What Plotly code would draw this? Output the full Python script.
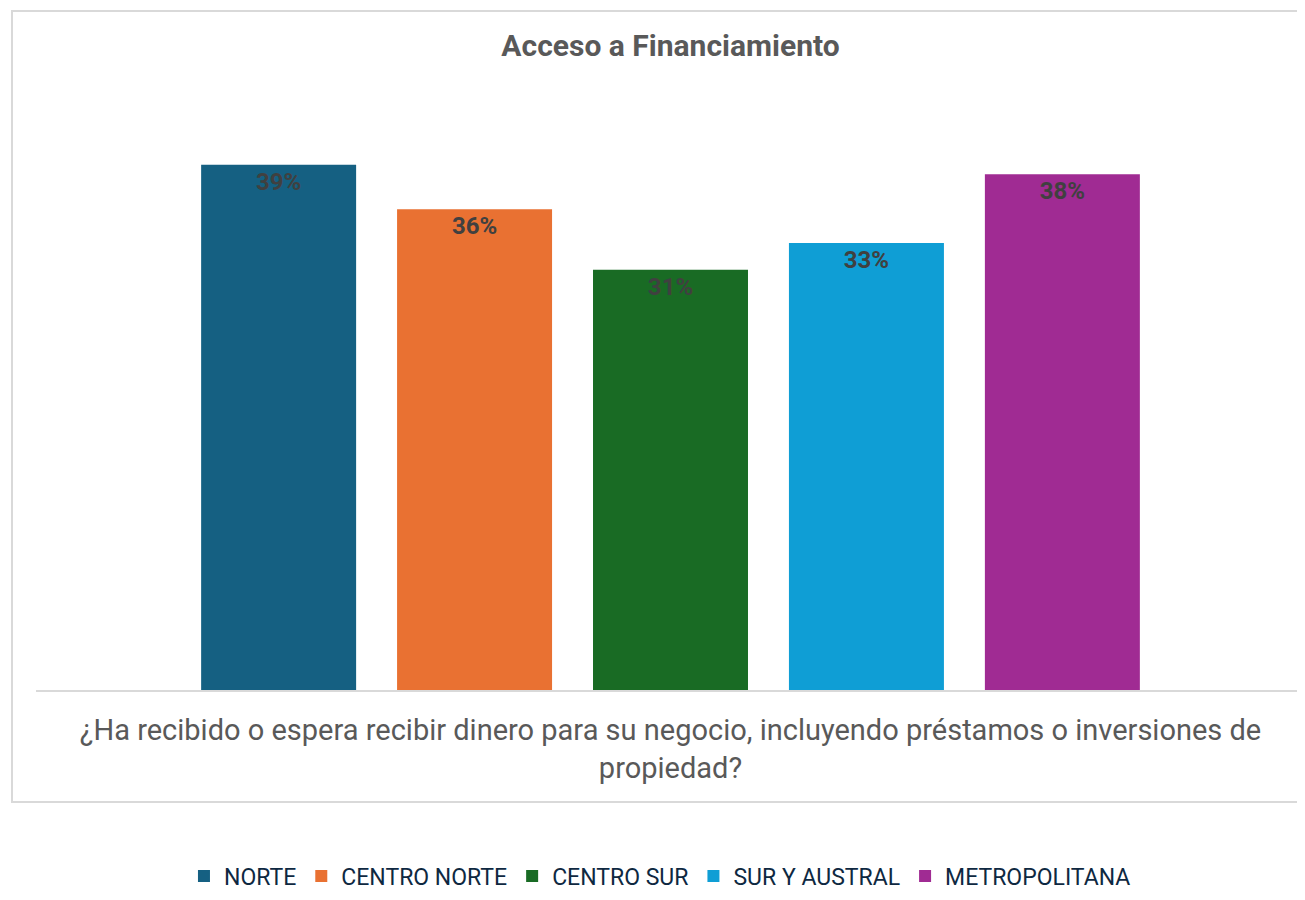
import plotly.graph_objects as go

# ── Data ──────────────────────────────────────────────────────────────────────
QUESTION = ("¿Ha recibido o espera recibir dinero para su negocio, incluyendo préstamos o inversiones de"
            "<br>propiedad?")
REGIONS = ["NORTE", "CENTRO NORTE", "CENTRO SUR", "SUR Y AUSTRAL", "METROPOLITANA"]
VALUES = [0.39, 0.357, 0.312, 0.332, 0.383]
COLORS = ["#156082", "#E97132", "#196B24", "#0F9ED5", "#A02B93"]

TEXT_GRAY = "#595959"
LABEL_GRAY = "#404040"
NAVY = "#0E2841"
BORDER = "#D9D9D9"

# page body has an 8px margin, so the figure is 8px smaller than the window
W, H = 1297, 892

fig = go.Figure()

for name, val, color in zip(REGIONS, VALUES, COLORS):
    fig.add_trace(go.Bar(
        x=[QUESTION], y=[val],
        name=name,
        marker=dict(color=color, line=dict(width=0)),
        text=[f"{val:.0%}"],
        textposition="inside",
        insidetextanchor="end",
        insidetextfont=dict(color=LABEL_GRAY, size=24, family="Roboto"),
        texttemplate="<b>%{text}</b>",
        textangle=0,
    ))

# outer frame of the chart area, open on the right (runs off the picture)
fig.add_shape(type="path", xref="paper", yref="paper",
              path="M 1.05,1.1205 L -0.0189,1.1205 L -0.0189,-0.1848 L 1.05,-0.1848",
              line=dict(color=BORDER, width=2), layer="below")

fig.update_layout(
    width=W, height=H,
    paper_bgcolor="white", plot_bgcolor="white",
    margin=dict(l=28, r=0, t=76, b=210),
    barmode="group", bargap=0.228, bargroupgap=0.209,
    title=dict(text="<b>Acceso a Financiamiento</b>", x=0.5, xref="paper",
               y=1 - 37 / H, yanchor="middle",
               font=dict(color=TEXT_GRAY, size=30, family="Roboto")),
    font=dict(family="Roboto", color=TEXT_GRAY),
    legend=dict(orientation="h", x=0.4917, xanchor="center", y=-0.307, yanchor="middle",
                font=dict(color=NAVY, size=23, family="Roboto"), traceorder="normal"),
    showlegend=True,
)
fig.update_xaxes(showline=True, linecolor=BORDER, linewidth=2, showgrid=False,
                 ticks="", ticklabelstandoff=13,
                 tickfont=dict(size=29, color=TEXT_GRAY, family="Roboto"))
fig.update_yaxes(range=[0, 0.45], visible=False, showgrid=False, zeroline=False)

fig.write_html("out.html")
